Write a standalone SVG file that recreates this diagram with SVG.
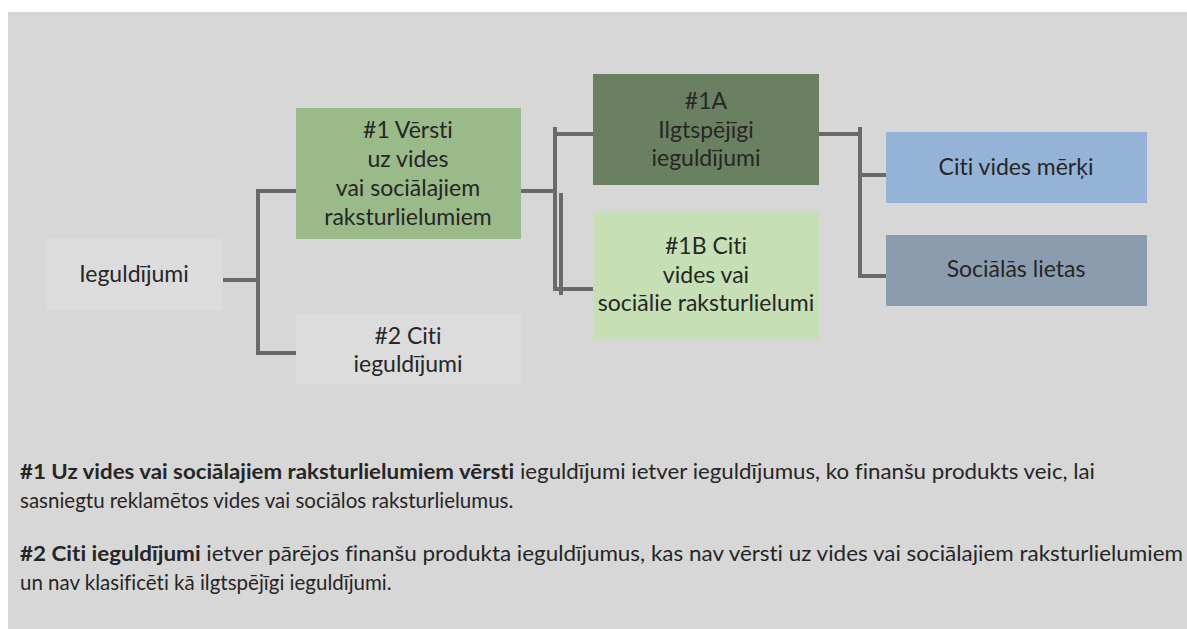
<svg xmlns="http://www.w3.org/2000/svg" width="1187" height="629" viewBox="0 0 1187 629">
<style>
.t{font-family:Lato,"Open Sans","Liberation Sans",sans-serif;font-size:23px;fill:#262626;text-anchor:middle;font-variant-ligatures:none}
.b{font-family:Lato,"Open Sans","Liberation Sans",sans-serif;font-size:20.5px;fill:#262626;font-variant-ligatures:none}
.bold{font-weight:bold}
.c{stroke:#6a6a6a;stroke-width:4;fill:none}
</style>
<rect x="0" y="0" width="1187" height="629" fill="#ffffff"/>
<rect x="8" y="12" width="1179" height="617" fill="#d7d7d7"/>
<g id="connectors">
<path class="c" d="M223 280H258M258 189V355M256 191H296M256 353H296"/>
<path class="c" d="M521 191H556M555 127V291M561 193V295M553 134H593M553 289H593"/>
<path class="c" d="M819 134H860M860 127V278M860 175H886M858 276H886"/>
</g>
<g id="n-ieguldijumi">
<rect x="46" y="239" width="177" height="71" fill="#dcdcdc"/>
<text class="t" x="134" y="282">Ieguldījumi</text>
</g>
<g id="n-1">
<rect x="296" y="108" width="225" height="131" fill="#9bba89"/>
<text class="t" x="408" y="138">#1 Vērsti</text>
<text class="t" x="408" y="167">uz vides</text>
<text class="t" x="408" y="196">vai sociālajiem</text>
<text class="t" x="408" y="225">raksturlielumiem</text>
</g>
<g id="n-2">
<rect x="296" y="314" width="225" height="70" fill="#dcdcdc"/>
<text class="t" x="408" y="344">#2 Citi</text>
<text class="t" x="408" y="372">ieguldījumi</text>
</g>
<g id="n-1a">
<rect x="593" y="74" width="226" height="111" fill="#6b8060"/>
<text class="t" x="706" y="109">#1A</text>
<text class="t" x="706" y="138">Ilgtspējīgi</text>
<text class="t" x="706" y="166">ieguldījumi</text>
</g>
<g id="n-1b">
<rect x="593" y="211" width="226" height="128" fill="#c6dfb4"/>
<text class="t" x="706" y="254">#1B Citi</text>
<text class="t" x="706" y="283">vides vai</text>
<text class="t" x="706" y="311">sociālie raksturlielumi</text>
</g>
<g id="n-vides">
<rect x="886" y="132" width="261" height="71" fill="#95b3d7"/>
<text class="t" x="1016" y="175">Citi vides mērķi</text>
</g>
<g id="n-socialas">
<rect x="886" y="235" width="261" height="71" fill="#8a9cad"/>
<text class="t" x="1016" y="277">Sociālās lietas</text>
</g>
<g id="notes">
<text class="b" x="20" y="479" textLength="1075" lengthAdjust="spacingAndGlyphs"><tspan class="bold">#1 Uz vides vai sociālajiem raksturlielumiem vērsti</tspan> ieguldījumi ietver ieguldījumus, ko finanšu produkts veic, lai</text>
<text class="b" x="20" y="508">sasniegtu reklamētos vides vai sociālos raksturlielumus.</text>
<text class="b" x="20" y="561" textLength="1163" lengthAdjust="spacingAndGlyphs"><tspan class="bold">#2 Citi ieguldījumi</tspan> ietver pārējos finanšu produkta ieguldījumus, kas nav vērsti uz vides vai sociālajiem raksturlielumiem</text>
<text class="b" x="20" y="590">un nav klasificēti kā ilgtspējīgi ieguldījumi.</text>
</g>
</svg>
